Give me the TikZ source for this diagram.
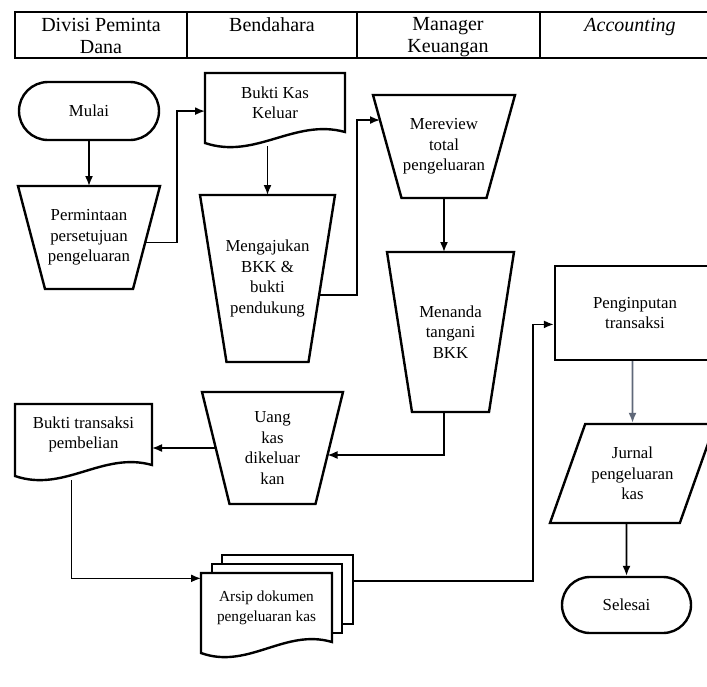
\documentclass[tikz,border=0pt]{standalone}
\usepackage{fontspec}
\setmainfont{Liberation Serif}
\usepackage{xcolor}
\usetikzlibrary{shapes.geometric,shapes.misc,arrows.meta,calc}

\definecolor{arrowgray}{HTML}{5F6879}

\newcommand{\docoutline}[1]{%
  \draw[shapeline] ($(#1.south west)+(0,11)$) -- (#1.north west) -- (#1.north east) -- (#1.south east)
    .. controls ($(#1.south west)!0.64!(#1.south east)+(0,-14)$) and ($(#1.south west)!0.36!(#1.south east)+(0,28)$)
    .. ($(#1.south west)+(0,11)$) -- cycle;}
\newcommand{\manualoutline}[2]{%
  \draw[shapeline] (#1.north west) -- (#1.north east) -- ($(#1.south east)+(-#2,0)$) -- ($(#1.south west)+(#2,0)$) -- cycle;}

\begin{document}
\begin{tikzpicture}[x=1pt, y=-1pt, >={Latex[length=10pt,width=8pt]}, line width=1.6pt,
    every node/.style={align=center, inner sep=1pt, font=\fontsize{16.8}{20.5}\selectfont},
    lanehead/.style={anchor=north, font=\fontsize{20}{22}\selectfont},
    terminator/.style={draw, rounded rectangle, line width=2.4pt},
    manualop/.style={rectangle, outer sep=0pt},
    iobox/.style={draw, trapezium, trapezium left angle=57.3, trapezium right angle=122.7, trapezium stretches body, line width=2.4pt},
    procbox/.style={draw, rectangle, line width=2.4pt},
    docbox/.style={rectangle, outer sep=0pt},
    shapeline/.style={line width=2.4pt}]
    \useasboundingbox (0,0) rectangle (707,686);
    \clip (0,0) rectangle (707,686);

    \draw[line width=1.4pt] (15,12) rectangle (720,58);
    \foreach \x in {187,357,540} \draw[line width=1.4pt] (\x,12) -- (\x,58);
    \node[lanehead] (divisi) at (101,16) {Divisi Peminta\\Dana};
    \node[lanehead] (bendahara) at (272,16) {Bendahara};
    \node[lanehead] (manager) at (448,16) {Manager\\Keuangan};
    \node[lanehead] (accounting) at (630,16) {\textit{Accounting}};

    \node[terminator, minimum width=142pt, minimum height=58pt] (mulai) at (89,111) {Mulai};
    \node[manualop, minimum width=142pt, minimum height=103pt] (perm) at (89,237.5) {Permintaan\\persetujuan\\pengeluaran};
    \manualoutline{perm}{27}
    \node[docbox, minimum width=140pt, minimum height=59pt] (bkk) at (275,102.5) {Bukti Kas\\Keluar};
    \docoutline{bkk}
    \node[manualop, minimum width=135pt, minimum height=167pt] (ajukan) at (267.5,278.5) {Mengajukan\\BKK \&\\bukti\\pendukung};
    \manualoutline{ajukan}{26.5}
    \node[manualop, minimum width=142pt, minimum height=103pt] (mereview) at (444,146.5) {Mereview\\total\\pengeluaran};
    \manualoutline{mereview}{28.5}
    \node[manualop, minimum width=127pt, minimum height=160pt] (tanda) at (450.5,332) {Menanda\\tangani\\BKK};
    \manualoutline{tanda}{25}
    \node[manualop, minimum width=141pt, minimum height=112pt] (uang) at (272.5,448) {Uang\\kas\\dikeluar\\kan};
    \manualoutline{uang}{27.5}
    \node[docbox, minimum width=137pt, minimum height=61pt] (bukti) at (83.5,434.5) {Bukti transaksi\\pembelian};
    \docoutline{bukti}
    \node[docbox, minimum width=131pt, minimum height=69pt, font=\fontsize{15.3}{20}\selectfont] (arsip) at (266.5,607.5) {Arsip dokumen\\pengeluaran kas};
    \docoutline{arsip}
    \draw[shapeline] ($(arsip.north west)+(11,0)$) |- ($(arsip.north east)+(10,-9)$) |- ($(arsip.south east)+(0,-9)$);
    \draw[shapeline] ($(arsip.north west)+(21,-9)$) |- ($(arsip.north east)+(21,-18)$) |- ($(arsip.south east)+(10,-18)$);
    \node[procbox, minimum width=160pt, minimum height=94pt] (input) at (635,313) {Penginputan\\transaksi};
    \node[iobox, minimum width=165pt, minimum height=99pt] (jurnal) at (632.5,473.5) {Jurnal\\pengeluaran\\kas};
    \node[terminator, minimum width=131pt, minimum height=56pt] (selesai) at (626.5,605) {Selesai};

    \draw[->] (mulai) -- (perm);
    \draw[->] ($(perm.north east)!0.55!(perm.south east)+(-15,0)$) -- ++(32,0) |- (bkk.187);
    \draw[->] ($(bkk.south)+(-7.5,14)$) -- (ajukan.north);
    \draw[->] ($(ajukan.north east)!0.6!(ajukan.south east)+(-16,0)$) -- ++(38,0) |- ($(mereview.north west)!0.243!(mereview.south west)+(7,0)$);
    \draw[->] (mereview.south) -- (mereview.south |- tanda.north);
    \draw[->] (tanda.south -| mereview) |- ($(uang.north east)!0.5625!(uang.south east)+(-15.5,0)$);
    \draw[->] ($(uang.west)+(13.75,0)$) -- (bukti.east |- uang.west);
    \draw[->] ($(bukti.south)+(-12,15)$) |- (arsip.156);
    \draw[->] ($(arsip.north east)+(21,8)$) -- ++(180,0) |- (input.188);
    \draw[->, draw=arrowgray] (input.south -| jurnal) -- (jurnal);
    \draw[->] (jurnal.south -| selesai) -- (selesai);
\end{tikzpicture}
\end{document}
